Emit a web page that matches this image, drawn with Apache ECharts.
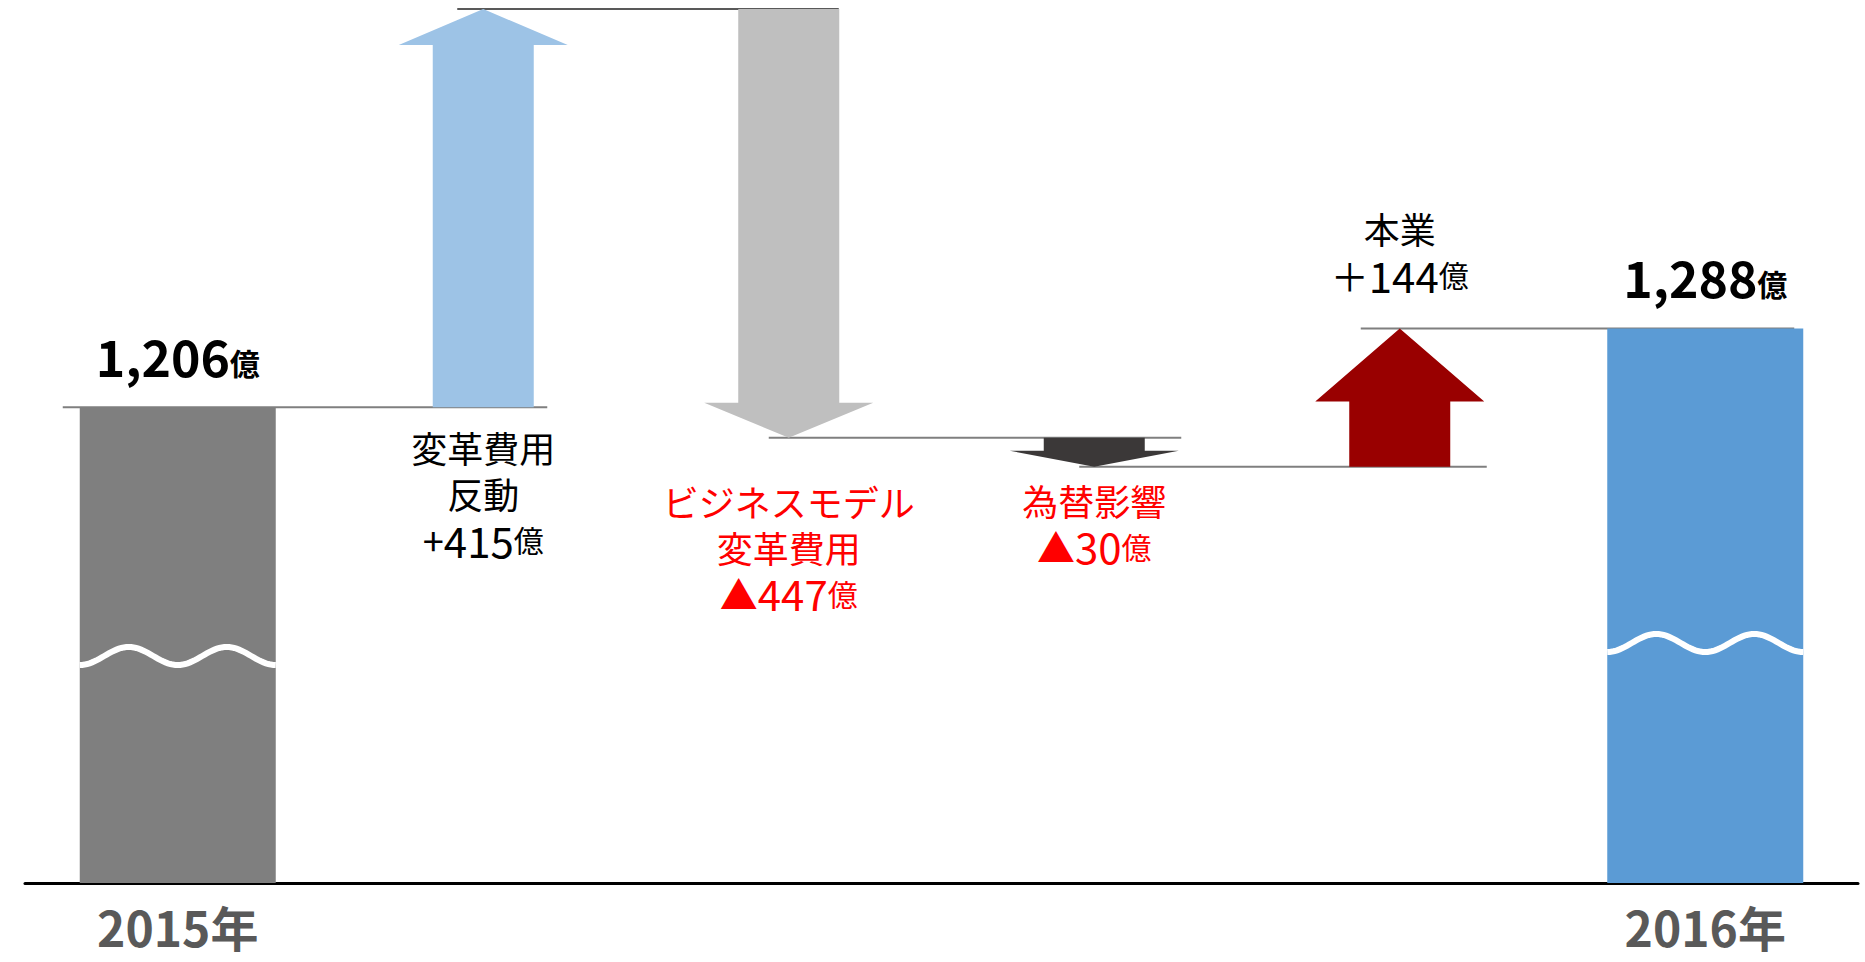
<!DOCTYPE html>
<html><head><meta charset="utf-8">
<script src="https://cdn.jsdelivr.net/npm/echarts@6/dist/echarts.min.js"></script>
<style>html,body{margin:0;padding:0;background:#fff}#c{width:1865px;height:962px}</style>
</head><body><div id="c"></div>
<script>
// ---- data ----
const categories = ['2015年', '変革費用反動', 'ビジネスモデル変革費用', '為替影響', '本業', '2016年'];
const tickLabels = ['2015年', '', '', '', '', '2016年'];
const startTotal = 1206;
const endTotal = 1288;
const changes = [415, -447, -30, 144];
const changeNames = [['変革費用', '反動'], ['ビジネスモデル', '変革費用'], ['為替影響'], ['本業']];
const changeSigns = ['+', '▲', '▲', '＋'];
const unitText = '億';

// ---- styles ----
const FONT = "'Noto Sans CJK JP', 'Noto Sans', sans-serif";
const itemColors = ['#7f7f7f', '#9dc3e6', '#bfbfbf', '#3b3838', '#990000', '#5b9bd5'];
const changeLabelColors = ['#000000', '#ff0000', '#ff0000', '#000000'];
const headLen = [36, 35, 28, 73];
const BAR_W = 196, SHAFT_W = 101, HEAD_W = 169;
const waveLift = [227, 240];
const WAVE_A = 9;
const connectorReach = [[-115, 64], [-26, 50], [-20, 87], [-15, 87], [-39, 89]];
const connectorColors = ['#7f7f7f', '#595959', '#7f7f7f', '#7f7f7f', '#7f7f7f'];

// cumulative levels
const levels = [startTotal];
changes.forEach(c => levels.push(levels[levels.length - 1] + c));

const mainData = [[0, startTotal, startTotal]];
changes.forEach((c, j) => mainData.push([j + 1, levels[j], levels[j + 1]]));
mainData.push([categories.length - 1, endTotal, endTotal]);

const connectorData = levels.map((v, k) => [k, v]);

const fmt = v => v.toLocaleString('en-US');

const totalRich = {
  n: { fontSize: 50, fontWeight: 'bold', fontFamily: FONT, fill: '#000', lineHeight: 60 },
  u: { fontSize: 30, fontWeight: 'bold', fontFamily: FONT, fill: '#000', lineHeight: 60, verticalAlign: 'bottom', padding: [0, 0, 8, 0] }
};
function changeRich(color) {
  return {
    t: { fontSize: 36, fontFamily: FONT, fill: color, lineHeight: 46 },
    s: { fontSize: 38, fontFamily: FONT, fill: color, lineHeight: 46 },
    n: { fontSize: 42, fontFamily: FONT, fill: color, lineHeight: 46 },
    u: { fontSize: 30, fontFamily: FONT, fill: color, lineHeight: 46 }
  };
}

function renderMain(params, api) {
  const i = api.value(0);
  const from = api.value(1), to = api.value(2);
  const cs = params.coordSys;
  const base = cs.y + cs.height;
  const pTo = api.coord([i, to]);
  const cx = pTo[0], yTo = pTo[1];
  const yFrom = api.coord([i, from])[1];
  const children = [];
  if (i === 0 || i === categories.length - 1) {
    const wi = i === 0 ? 0 : 1;
    children.push({ type: 'rect', shape: { x: cx - BAR_W / 2, y: yTo, width: BAR_W, height: base - yTo }, style: { fill: itemColors[i] } });
    const wy = base - waveLift[wi];
    const pts = [];
    for (let k = 0; k <= 80; k++) {
      const t = k / 80;
      pts.push([cx - BAR_W / 2 + t * BAR_W, wy + WAVE_A * Math.cos(4 * Math.PI * t)]);
    }
    children.push({ type: 'polyline', shape: { points: pts }, style: { stroke: '#ffffff', lineWidth: 6, fill: 'none' } });
    children.push({ type: 'text', x: cx, y: yTo - 22,
      style: { text: '{n|' + fmt(to) + '}{u|' + unitText + '}', rich: totalRich, align: 'center', verticalAlign: 'bottom' } });
  } else {
    const j = i - 1;
    const dir = yTo > yFrom ? 1 : -1;
    const len = Math.abs(yTo - yFrom);
    const h = Math.min(headLen[j], len * 0.55);
    const hb = yTo - dir * h;
    const pts = [
      [cx - SHAFT_W / 2, yFrom], [cx - SHAFT_W / 2, hb], [cx - HEAD_W / 2, hb], [cx, yTo],
      [cx + HEAD_W / 2, hb], [cx + SHAFT_W / 2, hb], [cx + SHAFT_W / 2, yFrom]
    ];
    children.push({ type: 'polygon', shape: { points: pts }, style: { fill: itemColors[i] } });
    const lines = changeNames[j].map(s => '{t|' + s + '}');
    lines.push('{s|' + changeSigns[j] + '}{n|' + Math.abs(changes[j]) + '}{u|' + unitText + '}');
    let ty, va;
    if (j === 0) { ty = Math.max(yFrom, yTo) + 17; va = 'top'; }
    else if (j === 1) { ty = yTo + 40; va = 'top'; }
    else if (j === 2) { ty = yTo + 10; va = 'top'; }
    else { ty = yTo - 31; va = 'bottom'; }
    children.push({ type: 'text', x: cx, y: ty,
      style: { text: lines.join('\n'), rich: changeRich(changeLabelColors[j]), align: 'center', verticalAlign: va } });
  }
  return { type: 'group', children };
}

function renderConnector(params, api) {
  const k = api.value(0);
  const v = api.value(1);
  const p0 = api.coord([k, v]);
  const p1 = api.coord([k + 1, v]);
  const r = connectorReach[k];
  return { type: 'line', shape: { x1: p0[0] + r[0], y1: p0[1], x2: p1[0] + r[1], y2: p0[1] },
    style: { stroke: connectorColors[k], lineWidth: 2 } };
}

const chart = echarts.init(document.getElementById('c'), null, { renderer: 'svg' });
chart.setOption({
  backgroundColor: '#ffffff',
  animation: false,
  grid: { left: 25, right: 7, top: 9, bottom: 79 },
  xAxis: {
    type: 'category', data: categories, boundaryGap: true,
    axisLine: { show: true, lineStyle: { color: '#000', width: 3 } },
    axisTick: { show: false },
    axisLabel: { interval: 0, formatter: (v, idx) => tickLabels[idx], fontSize: 48, lineHeight: 50, fontWeight: 'bold', color: '#595959', fontFamily: FONT, margin: 18 }
  },
  yAxis: { type: 'value', min: 710, max: Math.max(...levels), show: false, splitLine: { show: false } },
  series: [
    { type: 'custom', z: 1, renderItem: renderConnector, data: connectorData.slice(0, levels.length), encode: { x: 0, y: 1 }, silent: true },
    { type: 'custom', z: 2, renderItem: renderMain, data: mainData, encode: { x: 0, y: [1, 2] }, silent: true }
  ]
});
</script></body></html>
